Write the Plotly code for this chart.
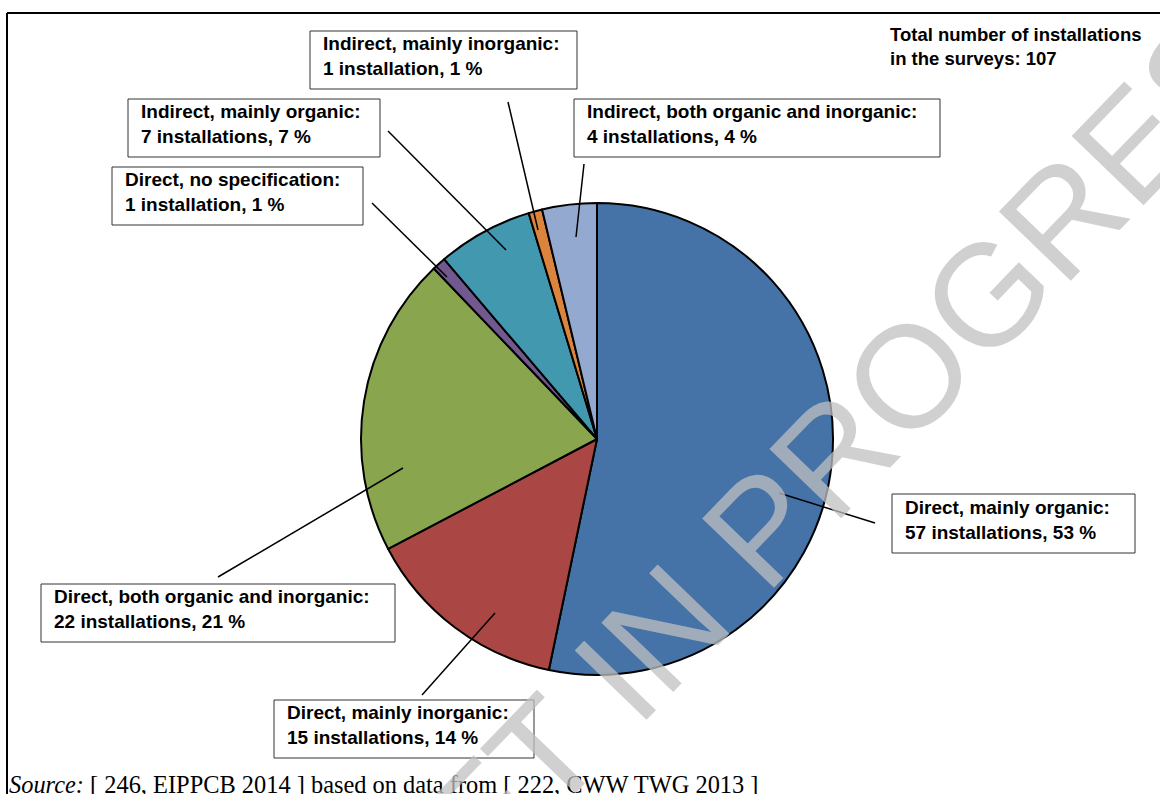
import plotly.graph_objects as go

# ---- data ----
categories = [
    "Direct, mainly organic",
    "Direct, mainly inorganic",
    "Direct, both organic and inorganic",
    "Direct, no specification",
    "Indirect, mainly organic",
    "Indirect, mainly inorganic",
    "Indirect, both organic and inorganic",
]
installations = [57, 15, 22, 1, 7, 1, 4]
percents = [53, 14, 21, 1, 7, 1, 4]
colors = ["#4572A7", "#AA4643", "#89A54E", "#71588F", "#4198AF", "#DB843D", "#93A9CF"]
total_installations = 107

W, H = 1160, 794


def px(x):
    return x / W


def py(y):
    return 1 - y / H


# pie geometry (pixels)
cx, cy, r = 597, 439, 236

fig = go.Figure()
fig.add_trace(go.Pie(
    labels=categories,
    values=installations,
    sort=False,
    direction="clockwise",
    rotation=0,
    marker=dict(colors=colors, line=dict(color="black", width=2)),
    textinfo="none",
    hoverinfo="label+value+percent",
    showlegend=False,
    domain=dict(x=[px(cx - r), px(cx + r)], y=[py(cy + r), py(cy - r)]),
))

# label boxes: (x0, y0, x1, y1) in pixels, and leader lines
boxes = [
    (892, 494, 1135, 553),
    (274, 700, 534, 758),
    (41, 584, 395, 642),
    (112, 167, 363, 225),
    (128, 99, 380, 157),
    (310, 31, 577, 89),
    (574, 99, 940, 157),
]
leaders = [
    ((779, 493), (875, 523)),
    ((495, 613), (422, 695)),
    ((403, 468), (218, 577)),
    ((447, 277), (372, 203)),
    ((506, 250), (388, 131)),
    ((538, 230), (508, 102)),
    ((576, 237), (584, 164)),
]

shapes = []
annotations = []
font_lbl = dict(family="Liberation Sans, Arial, sans-serif", size=19, color="black")

for cat, n, p, (x0, y0, x1, y1), (a, b) in zip(categories, installations, percents, boxes, leaders):
    shapes.append(dict(type="rect", xref="paper", yref="paper",
                       x0=px(x0), x1=px(x1), y0=py(y1), y1=py(y0),
                       line=dict(color="#333333", width=1), fillcolor="white", layer="above"))
    shapes.append(dict(type="line", xref="paper", yref="paper",
                       x0=px(a[0]), y0=py(a[1]), x1=px(b[0]), y1=py(b[1]),
                       line=dict(color="black", width=1.5)))
    word = "installation" if n == 1 else "installations"
    annotations.append(dict(
        x=px(x0 + 11), y=py((y0 + y1) / 2 - 4), xref="paper", yref="paper",
        xanchor="left", yanchor="middle", align="left", showarrow=False,
        text=f"<b>{cat}:<br>{n} {word}, {p} %</b>", font=font_lbl))

annotations.append(dict(
    x=px(888), y=py(22), xref="paper", yref="paper", xanchor="left", yanchor="top",
    align="left", showarrow=False,
    text=f"<b>Total number of installations<br>in the surveys: {total_installations}</b>",
    font=dict(family="Liberation Sans, Arial, sans-serif", size=18.5, color="black")))

annotations.append(dict(
    x=px(7), y=py(800), xref="paper", yref="paper", xanchor="left", yanchor="bottom",
    align="left", showarrow=False,
    text="<i>Source:</i> [ 246, EIPPCB 2014 ] based on data from [ 222, CWW TWG 2013 ]",
    font=dict(family="Liberation Serif, Times New Roman, serif", size=24.4, color="black")))

# watermark
annotations.append(dict(
    x=px(770), y=py(520), xref="paper", yref="paper", xanchor="center", yanchor="middle",
    showarrow=False, text="DRAFT IN PROGRESS", textangle=-46,
    font=dict(family="Liberation Sans, Arial, sans-serif", size=145, color="rgba(192,192,192,0.75)")))

# frame
shapes.append(dict(type="line", xref="paper", yref="paper", x0=px(7), y0=py(13), x1=1, y1=py(13),
                   line=dict(color="black", width=2)))
shapes.append(dict(type="line", xref="paper", yref="paper", x0=px(7), y0=py(13), x1=px(7), y1=0,
                   line=dict(color="black", width=2)))

fig.update_layout(
    width=W, height=H,
    margin=dict(l=0, r=0, t=0, b=0),
    paper_bgcolor="white", plot_bgcolor="white",
    shapes=shapes, annotations=annotations,
)

fig.write_html("out.html")
